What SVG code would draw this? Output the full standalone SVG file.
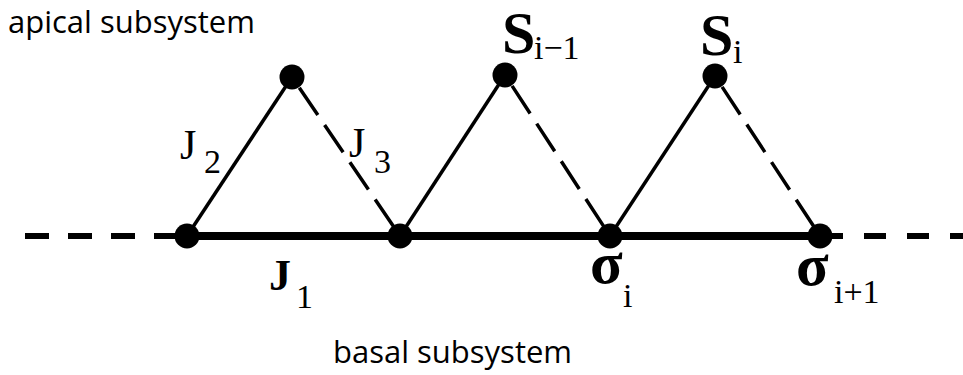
<svg xmlns="http://www.w3.org/2000/svg" width="963" height="375" viewBox="0 0 963 375">
<style>
.t{font-family:"Liberation Serif","Times New Roman",serif;fill:#000}
.j{font-size:42px}
.jb{font-size:44px;font-weight:bold}
.big{font-size:60px;font-weight:bold}
.sig{font-size:60px;font-weight:bold}
.s{font-size:34px}
.lab{font-family:"Open Sans","Liberation Sans",sans-serif;font-size:31px;fill:#000}
.solid{stroke:#000;stroke-width:3.5;fill:none}
.dash{stroke:#000;stroke-width:3.5;fill:none;stroke-dasharray:33 12}
.chain{stroke:#000;stroke-width:8;fill:none}
.extl{stroke:#000;stroke-width:6;fill:none;stroke-dasharray:24 19}
.extr{stroke:#000;stroke-width:6;fill:none;stroke-dasharray:22 21}
.n{fill:#000}
</style>
<rect width="963" height="375" fill="#fff"/>
<g id="connectors">
<line class="extl" x1="25" y1="236" x2="187" y2="236"/>
<line class="extr" x1="821" y1="236" x2="963" y2="236"/>
<line class="chain" x1="187" y1="236" x2="820" y2="236"/>
<line class="solid" x1="187" y1="236" x2="292" y2="77"/>
<line class="dash" x1="299.3" y1="87.8" x2="400" y2="236"/>
<line class="solid" x1="400" y1="236" x2="505" y2="75"/>
<line class="dash" x1="512.1" y1="85.9" x2="610" y2="236"/>
<line class="solid" x1="610" y1="236" x2="715" y2="76"/>
<line class="dash" x1="722.1" y1="86.9" x2="820" y2="236"/>
</g>
<g id="b1"><circle class="n" cx="187" cy="236" r="12.5"/></g>
<g id="b2"><circle class="n" cx="400" cy="236" r="12.5"/></g>
<g id="b3"><circle class="n" cx="610" cy="236" r="12.5"/></g>
<g id="b4"><circle class="n" cx="820" cy="236" r="12.5"/></g>
<g id="a1"><circle class="n" cx="292" cy="77" r="12.5"/></g>
<g id="a2"><circle class="n" cx="505" cy="75" r="12.5"/></g>
<g id="a3"><circle class="n" cx="715" cy="76" r="12.5"/></g>
<g id="labels">
<text class="lab" x="8" y="33">apical subsystem</text>
<text class="lab" x="333" y="363">basal subsystem</text>
<text class="t j" x="180" y="159">J</text><text class="t s" x="204" y="173">2</text>
<text class="t j" x="349" y="157">J</text><text class="t s" x="374" y="173">3</text>
<text class="t jb" x="269" y="290">J</text><text class="t s" x="296" y="308">1</text>
<text class="t big" x="502" y="53">S</text><text class="t s" x="534" y="59">i−1</text>
<text class="t big" x="700" y="55">S</text><text class="t s" x="733" y="63">i</text>
<text class="t sig" x="590" y="283">σ</text><text class="t s" x="623" y="307">i</text>
<text class="t sig" x="796" y="285">σ</text><text class="t s" x="834" y="303">i+1</text>
</g>
</svg>
